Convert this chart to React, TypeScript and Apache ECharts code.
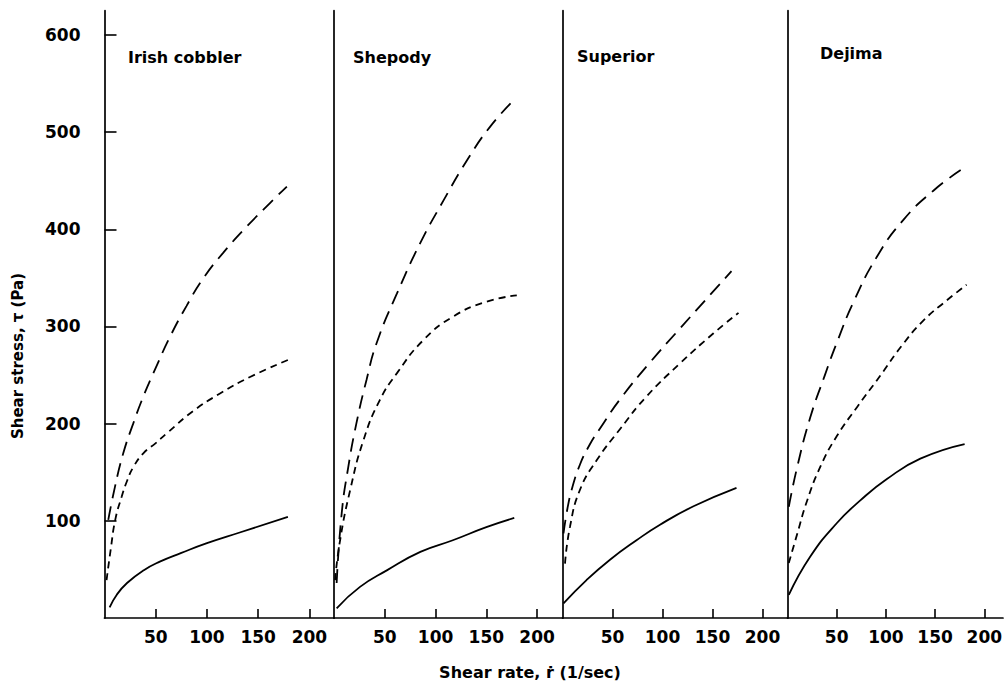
import React, { useEffect, useRef } from "react";
import * as echarts from "echarts";

const varieties = ["Irish cobbler", "Shepody", "Superior", "Dejima"];
const xTickValues = [50, 100, 150, 200];
const yTickValues = [100, 200, 300, 400, 500, 600];

// [shear rate (1/sec), shear stress (Pa)]
const irishSolid = [[5, 11], [12, 24], [22, 36], [38, 49], [54, 58], [75, 67], [100, 77], [132, 88], [179, 104]];
const irishShort = [[2, 39], [6, 70], [10.5, 101], [16.8, 125], [22, 141], [28, 155], [37.9, 169.5], [50, 180], [60.7, 190], [86.6, 213], [112.7, 231], [142, 248], [179, 265.5]];
const irishLong = [[3.7, 101], [10.2, 135], [18.3, 169.5], [28, 200], [37.9, 228], [49, 255], [64, 289.5], [80, 321], [96, 349], [116, 376], [139, 403], [161.5, 427], [178, 444]];

const shepodySolid = [[2.6, 10], [25.6, 32], [52, 49], [85, 68], [117, 80], [150, 93.5], [177.5, 103]];
const shepodyShort = [[1, 39], [6, 80], [16, 132], [29, 183], [45, 224], [62, 252], [88, 286], [117, 310], [150, 325.5], [180, 332]];
const shepodyLong = [[2.6, 36], [7.6, 108], [14, 155], [22, 200], [32, 245], [42, 283], [62, 334], [85, 386], [108, 430], [131, 471], [154, 506], [179, 535]];

const superiorSolid = [[1, 15], [24, 39], [47.5, 60], [74, 80], [97.5, 96], [131, 115], [174, 134]];
const superiorShort = [[2.5, 56], [7.5, 94], [17.5, 132], [34, 162], [58, 195], [84, 228], [117.5, 262], [151, 293], [176, 314]];
const superiorLong = [[1, 87], [5, 113], [10, 135], [17.5, 158], [27, 178], [37.5, 195], [57.5, 225], [87.5, 263], [117.5, 298], [137.5, 321], [169, 357]];

const dejimaSolid = [[1.3, 23.7], [23, 63], [50, 97.5], [74, 121], [101, 143], [135, 164], [180, 179]];
const dejimaShort = [[1.3, 56.5], [10, 87], [20, 121], [33.5, 156], [50, 187], [71, 217.5], [94, 249], [116, 280], [138, 306], [162, 327], [182, 343]];
const dejimaLong = [[1.3, 114.5], [10, 156], [23, 206], [38, 250], [50, 283], [67, 325], [91, 372], [118, 410], [148.5, 440], [176, 461]];

const panelSeries = [
  [irishSolid, irishShort, irishLong],
  [shepodySolid, shepodyShort, shepodyLong],
  [superiorSolid, superiorShort, superiorLong],
  [dejimaSolid, dejimaShort, dejimaLong],
];

const xMaxes = [224, 225, 225, 219];
const yMax = 625;

const FONT = "'DejaVu Sans', 'Liberation Sans', sans-serif";
const panelLeft = [104.5, 334, 562.5, 787.5];
const panelWidth = [229.5, 228.5, 225, 215.5];
const titlePos = [[128, 57], [353, 57], [577, 56], [820, 53]];
const dashTypes: any[] = ["solid", [7, 5], [14, 8]];

export default function App() {
  const ref = useRef<HTMLDivElement>(null);
  useEffect(() => {
    if (!ref.current) return;
    const chart = echarts.init(ref.current, undefined, { renderer: "svg" });
    const top = 10.7;
    const height = 618 - top;
    const grid = panelLeft.map((l, i) => ({ left: l, top, width: panelWidth[i], height }));
    const axisLine = { show: true, lineStyle: { color: "#000", width: 1.7 } };
    const xAxis = panelLeft.map((_, i) => ({
      type: "value",
      gridIndex: i,
      min: 0,
      max: xMaxes[i],
      axisLine,
      splitLine: { show: false },
      axisTick: { show: true, inside: true, length: 9, customValues: xTickValues, lineStyle: { color: "#000", width: 1.6 } },
      axisLabel: { show: true, customValues: xTickValues, color: "#000", fontSize: 17, fontWeight: "bold", fontFamily: FONT, margin: 10 },
    }));
    const yAxis = panelLeft.map((_, i) => ({
      type: "value",
      gridIndex: i,
      min: 0,
      max: yMax,
      axisLine,
      splitLine: { show: false },
      axisTick: i === 0
        ? { show: true, inside: true, length: 12, customValues: yTickValues, lineStyle: { color: "#000", width: 1.6 } }
        : { show: false },
      axisLabel: i === 0
        ? { show: true, customValues: yTickValues, color: "#000", fontSize: 17, fontWeight: "bold", fontFamily: FONT, margin: 24 }
        : { show: false },
    }));
    const series: any[] = [];
    panelSeries.forEach((arr, i) => {
      arr.forEach((data, k) => {
        series.push({
          type: "line",
          xAxisIndex: i,
          yAxisIndex: i,
          data,
          smooth: 0.5,
          showSymbol: false,
          symbol: "none",
          lineStyle: { color: "#000", width: 1.8, type: dashTypes[k] },
        });
      });
    });
    const graphic: any[] = varieties.map((name, i) => ({
      type: "text",
      x: titlePos[i][0],
      y: titlePos[i][1],
      style: { text: name, fill: "#000", font: `bold 16px ${FONT}`, textAlign: "left", textVerticalAlign: "middle" },
    }));
    graphic.push({
      type: "text",
      x: 18,
      y: 356,
      rotation: Math.PI / 2,
      style: { text: "Shear stress, τ (Pa)", fill: "#000", font: `bold 15px ${FONT}`, textAlign: "center", textVerticalAlign: "middle" },
    });
    graphic.push({
      type: "text",
      x: 530,
      y: 672,
      style: { text: "Shear rate, ṙ (1/sec)", fill: "#000", font: `bold 16px ${FONT}`, textAlign: "center", textVerticalAlign: "middle" },
    });
    chart.setOption({
      animation: false,
      backgroundColor: "#fff",
      grid,
      xAxis,
      yAxis,
      series,
      graphic,
    });
    return () => chart.dispose();
  }, []);
  return <div ref={ref} style={{ position: "absolute", left: 0, top: 0, width: 1007, height: 686 }} />;
}
